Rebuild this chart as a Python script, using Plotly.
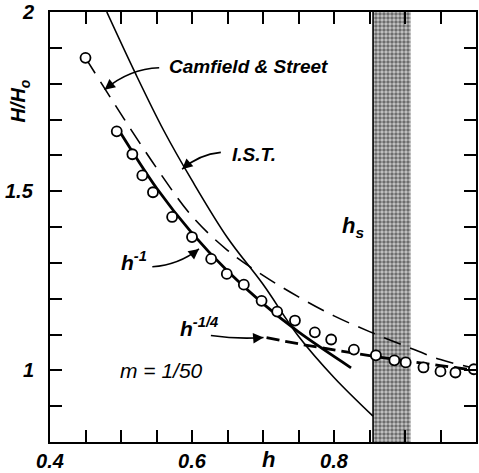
import plotly.graph_objects as go

# Observed wave-height ratio (open circles)
h_obs = [0.450, 0.494, 0.516, 0.530, 0.545, 0.572, 0.600, 0.627, 0.649, 0.673, 0.698,
         0.720, 0.745, 0.773, 0.796, 0.828, 0.859, 0.885, 0.901, 0.926, 0.950, 0.971, 0.997]
H_obs = [1.872, 1.667, 1.603, 1.544, 1.497, 1.428, 1.372, 1.311, 1.269, 1.239, 1.194,
         1.164, 1.139, 1.106, 1.086, 1.058, 1.042, 1.028, 1.022, 1.008, 0.997, 0.994, 1.003]

# Camfield & Street curve (long dashes)
h_cs = [0.45, 0.50, 0.55, 0.60, 0.65, 0.70, 0.75, 0.80, 0.85, 0.90, 0.95, 1.00]
H_cs = [1.872, 1.715, 1.565, 1.430, 1.335, 1.265, 1.205, 1.152, 1.108, 1.068, 1.030, 1.005]

# I.S.T. curve (thin solid)
h_ist = [0.48, 0.52, 0.56, 0.60, 0.65, 0.70, 0.75, 0.80, 0.855]
H_ist = [2.00, 1.83, 1.67, 1.53, 1.37, 1.24, 1.095, 0.98, 0.872]

# h^-1 curve (heavy solid)
h_m1 = [0.494, 0.55, 0.60, 0.65, 0.70, 0.75, 0.824]
H_m1 = [1.680, 1.509, 1.383, 1.277, 1.186, 1.107, 1.007]

# h^-1/4 curve (heavy dashes)
h_q = [0.705, 0.75, 0.80, 0.85, 0.90, 0.95, 1.00]
H_q = [1.091, 1.074, 1.057, 1.041, 1.027, 1.013, 1.000]

# breaking zone h_s
h_s_band = [0.855, 0.908]

x_tickvals = [0.40, 0.45, 0.50, 0.55, 0.60, 0.65, 0.70, 0.75, 0.80, 0.85, 0.90, 0.95, 1.00]
x_ticktext = ["0.4", "", "", "", "0.6", "", "", "", "0.8", "", "", "", "1"]
y_tickvals = [0.8, 0.9, 1.0, 1.1, 1.2, 1.3, 1.4, 1.5, 1.6, 1.7, 1.8, 1.9, 2.0]
y_ticktext = ["", "", "1", "", "", "", "", "1.5", "", "", "", "", "2"]
y_label_vals = [1.0, 1.5, 2.0]
y_label_text = ["1", "1.5", "2"]

FONT = "Liberation Sans"

fig = go.Figure()

# stippled breaking band
fig.add_trace(go.Scatter(
    x=[h_s_band[0], h_s_band[1], h_s_band[1], h_s_band[0], h_s_band[0]],
    y=[0.8, 0.8, 2.0, 2.0, 0.8],
    mode="lines", fill="toself", line=dict(width=0, color="rgba(0,0,0,0)"),
    fillcolor="#a0a0a0",
    fillpattern=dict(shape=".", fgcolor="#111111", bgcolor="#c8c8c8", size=4, solidity=0.6),
    hoverinfo="skip", showlegend=False))
# left edge of the band
fig.add_trace(go.Scatter(x=[h_s_band[0], h_s_band[0]], y=[0.8, 2.0], mode="lines",
                         line=dict(color="black", width=1.6), showlegend=False))

fig.add_trace(go.Scatter(x=h_cs, y=H_cs, mode="lines",
                         line=dict(color="black", width=1.6, dash="18px,10px", shape="spline"),
                         showlegend=False))
fig.add_trace(go.Scatter(x=h_ist, y=H_ist, mode="lines",
                         line=dict(color="black", width=1.6, shape="spline"),
                         showlegend=False))
fig.add_trace(go.Scatter(x=h_m1, y=H_m1, mode="lines",
                         line=dict(color="black", width=2.8, shape="spline"),
                         showlegend=False))
fig.add_trace(go.Scatter(x=h_q, y=H_q, mode="lines",
                         line=dict(color="black", width=2.8, dash="13px,6px", shape="spline"),
                         showlegend=False))
fig.add_trace(go.Scatter(x=h_obs, y=H_obs, mode="markers",
                         marker=dict(symbol="circle", size=10, color="white",
                                     line=dict(color="black", width=1.8)),
                         showlegend=False))

# curved leader lines
leaders = [
    ((0.5538, 1.8444), (0.5119, 1.8417), (0.4769, 1.7833), 8, -6.5),
    ((0.6406, 1.6083), (0.6098, 1.6028), (0.5860, 1.5611), 7.5, -6.6),
    ((0.5441, 1.2889), (0.5818, 1.2944), (0.6098, 1.3389), -7.8, 6.2),
    ((0.6266, 1.0972), (0.6657, 1.0861), (0.7007, 1.0917), -10, 0.8),
]
for (t, c, hd, ax, ay) in leaders:
    fig.add_shape(type="path", xref="x", yref="y",
                  path=f"M {t[0]},{t[1]} Q {c[0]},{c[1]} {hd[0]},{hd[1]}",
                  line=dict(color="black", width=1.6))
    fig.add_annotation(x=hd[0], y=hd[1], xref="x", yref="y", text="", showarrow=True,
                       ax=ax, ay=ay, arrowhead=2, arrowsize=1.3, arrowwidth=1.6,
                       arrowcolor="black", standoff=0)

bi = dict(family=FONT, size=19, color="black", weight="bold", style="italic")
labels = [
    ("Camfield & Street", 0.6797, 1.8472, 19),
    ("I.S.T.", 0.6867, 1.6028, 19),
    ("h<sup>-1</sup>", 0.5189, 1.3056, 21),
    ("h<sup>-1/4</sup>", 0.6098, 1.1222, 21),
    ("h<sub>s</sub>", 0.8266, 1.40, 22),
]
for txt, x, y, sz in labels:
    fig.add_annotation(x=x, y=y, xref="x", yref="y", text=txt, showarrow=False,
                       font=dict(bi, size=sz), xanchor="center", yanchor="middle")

fig.add_annotation(x=0.5566, y=1.0, xref="x", yref="y", text="m = 1/50", showarrow=False,
                   font=dict(family=FONT, size=21, color="black", style="italic"),
                   xanchor="center", yanchor="middle")

tick_font = dict(family=FONT, size=20, color="black", weight="bold", style="italic")

# value labels for the H/Ho axis, placed on the y scale left of the axis line
for v, txt in zip(y_label_vals, y_label_text):
    fig.add_annotation(x=0, y=v, xref="paper", yref="y", text=txt, showarrow=False,
                       font=tick_font, xanchor="right", yanchor="middle", xshift=-14)

# axis titles
fig.add_annotation(x=0.7077, y=0, xref="x", yref="paper", text="h", showarrow=False,
                   font=dict(bi, size=22), xanchor="center", yanchor="middle", yshift=-17)
fig.add_annotation(x=0, y=1.75, xref="paper", yref="y", text="H/H<sub>o</sub>",
                   showarrow=False, textangle=-90, font=dict(bi, size=20),
                   xanchor="center", yanchor="middle", xshift=-30)

fig.update_layout(
    width=479, height=473,
    margin=dict(l=50, r=1, t=12, b=29),
    paper_bgcolor="white", plot_bgcolor="white",
    xaxis=dict(showline=True, linewidth=2.2, linecolor="black", mirror="ticks",
               ticks="inside", ticklen=12, tickwidth=2, tickcolor="black",
               showgrid=False, zeroline=False, tickmode="array",
               range=[0.4, 1.0], tickvals=x_tickvals, ticktext=x_ticktext,
               tickfont=tick_font),
    # inward ticks on both sides
    yaxis=dict(showline=True, linewidth=2.2, linecolor="black", mirror="ticks",
               ticks="inside", ticklen=12, tickwidth=2, tickcolor="black",
               showgrid=False, zeroline=False, tickmode="array",
               range=[0.8, 2.0], tickvals=y_tickvals, ticktext=y_ticktext,
               showticklabels=False),
    yaxis2=dict(overlaying="y", side="left", anchor="x", range=[0.8, 2.0],
                showline=False, showgrid=False, zeroline=False,
                ticks="outside", ticklen=13, tickcolor="rgba(0,0,0,0)",
                tickmode="array", tickvals=y_tickvals, ticktext=y_ticktext,
                tickfont=tick_font),
    showlegend=False,
)

fig.write_html("out.html")
